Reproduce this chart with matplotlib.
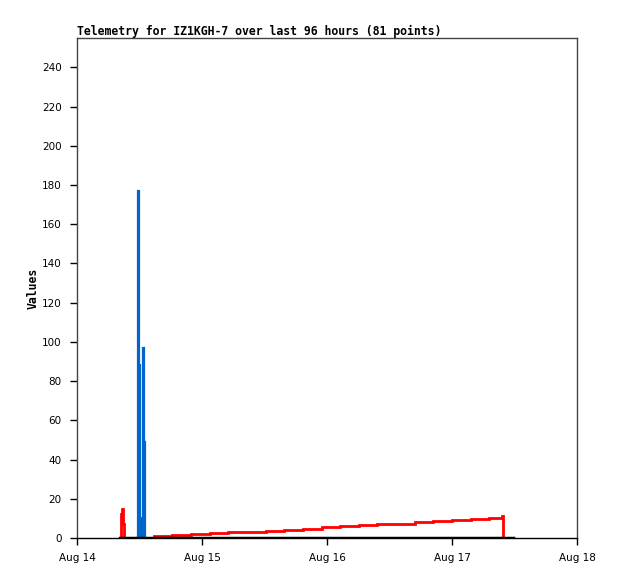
import matplotlib
matplotlib.use("Agg")
import matplotlib.pyplot as plt

# hours since Aug 14 00:00
red_t = [8.3, 8.4, 8.6, 8.9, 9.1, 12.15, 12.4,
         14.8, 18.2, 21.9, 25.5, 29.0, 32.6, 36.3, 39.7, 43.4, 47.0,
         50.5, 54.1, 57.6, 61.2, 64.9, 68.4, 72.0, 75.6, 79.1, 81.6, 81.7]
red_v = [0, 12, 15, 7, 0, 10, 0,
         0.9, 1.4, 1.9, 2.4, 2.9, 3.2, 3.7, 4.2, 4.7, 5.5,
         6.0, 6.5, 7.0, 7.3, 8.0, 8.7, 9.2, 9.7, 10.0, 11.2, 0]

blue_t = [11.6, 11.77, 11.96, 12.19, 12.58, 12.83, 12.96]
blue_v = [0, 177, 88, 0, 97, 49, 0]

black_t = [8.3, 83.7]
black_v = [0, 0]

xticks = [0, 24, 48, 72, 96]
xlabels = ["Aug 14", "Aug 15", "Aug 16", "Aug 17", "Aug 18"]
yticks = list(range(0, 241, 20))

fig = plt.figure(figsize=(6.18, 5.79), dpi=100)
ax = fig.add_axes([77 / 618, 41 / 579, 500 / 618, 500 / 579])

ax.step(red_t, red_v, where="post", color="#ff0000", lw=2, solid_joinstyle="miter")
ax.step(blue_t, blue_v, where="post", color="#0066cc", lw=1.6, solid_joinstyle="miter")
ax.plot(black_t, black_v, color="black", lw=2.5)

ax.set_xlim(0, 96)
ax.set_ylim(0, 255)
ax.set_xticks(xticks)
ax.set_xticklabels(xlabels)
ax.set_yticks(yticks)
ax.tick_params(axis="both", direction="out", length=5, width=1, labelsize=7.5, pad=6)

for s in ax.spines.values():
    s.set_color("#444444")
    s.set_linewidth(1)
ax.spines["bottom"].set_color("black")

mono = "DejaVu Sans Mono"
ax.set_title("Telemetry for IZ1KGH-7 over last 96 hours (81 points)", loc="left",
             family=mono, fontweight="bold", fontsize=8.3, pad=2)
ax.set_ylabel("Values", family=mono, fontweight="bold", fontsize=8.3, labelpad=2)

fig.savefig("out.png", dpi=100)
